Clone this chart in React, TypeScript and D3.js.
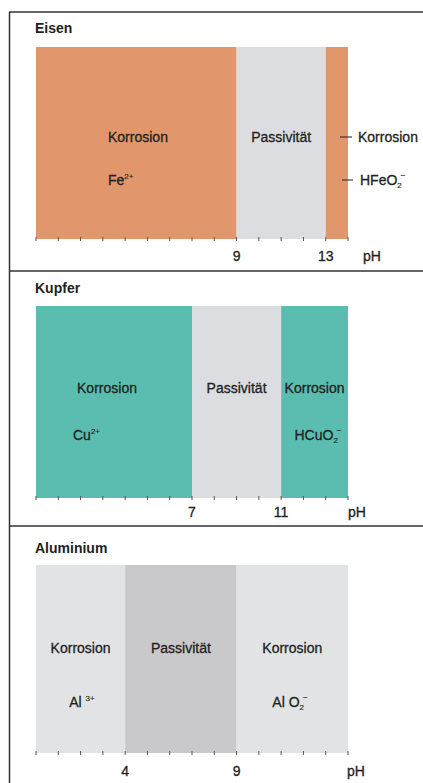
import React from "react";
import * as d3 from "d3";

// pH axis
const phDomain = [0, 14];
const phTicks = d3.range(0, 15);

// zones per metal: [from, to, state]
const eisenZones: [number, number, string][] = [[0, 9, "korr"], [9, 13, "pass"], [13, 14, "korr"]];
const kupferZones: [number, number, string][] = [[0, 7, "korr"], [7, 11, "pass"], [11, 14, "korr"]];
const aluZones: [number, number, string][] = [[0, 4, "korr"], [4, 9, "pass"], [9, 14, "korr"]];

const eisenLabels = [9, 13];
const kupferLabels = [7, 11];
const aluLabels = [4, 9];

const titles = ["Eisen", "Kupfer", "Aluminium"];

const W = 423;
const H = 783;
const FONT = "'Liberation Sans', Arial, sans-serif";
const FS = 14;
const TXT = "#231f20";

const x = d3.scaleLinear().domain(phDomain).range([36, 348]);

const colors: Record<string, Record<string, string>> = {
  Eisen: { korr: "#e2966b", pass: "#dcdde0" },
  Kupfer: { korr: "#5bbdb0", pass: "#dcdde0" },
  Aluminium: { korr: "#e2e3e5", pass: "#c9c9cb" },
};

type PanelProps = {
  title: string;
  zones: [number, number, string][];
  labels: number[];
  top: number;
  titleY: number;
  bottom: number;
  labelY: number;
  pHx: number;
  children?: React.ReactNode;
};

const Panel = ({ title, zones, labels, top, titleY, bottom, labelY, pHx, children }: PanelProps) => {
  const c = colors[title];
  return (
    <g>
      <text x={35} y={titleY} fontFamily={FONT} fontWeight="bold" fontSize={14} fill={TXT}>{title}</text>
      {zones.map((z, i) => (
        <rect key={i} x={x(z[0])} y={top} width={x(z[1]) - x(z[0])} height={bottom - top} fill={c[z[2]]} />
      ))}
      {phTicks.map((t) => (
        <line key={t} x1={x(t)} x2={x(t)} y1={bottom - 2} y2={bottom + 2} stroke="#555" strokeWidth={1} />
      ))}
      {labels.map((t) => (
        <T key={t} x={x(t)} y={labelY} anchor="middle">{t}</T>
      ))}
      <T x={pHx} y={labelY}>pH</T>
      {children}
    </g>
  );
};

const T = (p: { x: number; y: number; anchor?: string; children: React.ReactNode }) => (
  <text x={p.x} y={p.y} textAnchor={p.anchor || "start"} fontFamily={FONT} fontSize={FS}
    fill={TXT} stroke={TXT} strokeWidth={0.3}>{p.children}</text>
);

const Sup = ({ s }: { s: string }) => (
  <tspan fontSize={8} dy={-6} strokeWidth={0.15}>{s}</tspan>
);

const SubSup = ({ sub, sup }: { sub: string; sup: string }) => (
  <>
    <tspan fontSize={8} dy={3} strokeWidth={0.15}>{sub}</tspan>
    <tspan fontSize={8} dy={-10} dx={-1} strokeWidth={0.15}>{sup}</tspan>
  </>
);

export default function App() {
  return (
    <div style={{ position: "absolute", left: 0, top: 0 }}>
      <svg width={W} height={H} style={{ display: "block", background: "#fff" }}>
        {/* frame */}
        <line x1={9.5} x2={9.5} y1={12} y2={H} stroke="#333" strokeWidth={1.5} />
        <line x1={9} x2={W} y1={12} y2={12} stroke="#333" strokeWidth={1.5} />
        <line x1={9} x2={W} y1={271} y2={271} stroke="#333" strokeWidth={1.5} />
        <line x1={9} x2={W} y1={526} y2={526} stroke="#333" strokeWidth={1.5} />

        <Panel title={titles[0]} zones={eisenZones} labels={eisenLabels} top={47} titleY={33} bottom={239} labelY={261} pHx={363}>
          <T x={108} y={142}>Korrosion</T>
          <T x={108} y={185}>Fe<Sup s="2+" /></T>
          <T x={(x(9) + x(13)) / 2} y={142} anchor="middle">Passivität</T>
          <line x1={340} x2={352} y1={137} y2={137} stroke={TXT} strokeWidth={1} />
          <T x={358} y={142}>Korrosion</T>
          <line x1={342} x2={353} y1={180} y2={180} stroke={TXT} strokeWidth={1} />
          <T x={360} y={185}>HFeO<SubSup sub="2" sup="−" /></T>
        </Panel>

        <Panel title={titles[1]} zones={kupferZones} labels={kupferLabels} top={306} titleY={293} bottom={498} labelY={517} pHx={348}>
          <T x={107} y={393} anchor="middle">Korrosion</T>
          <T x={73} y={440}>Cu<Sup s="2+" /></T>
          <T x={(x(7) + x(11)) / 2} y={393} anchor="middle">Passivität</T>
          <T x={(x(11) + x(14)) / 2} y={393} anchor="middle">Korrosion</T>
          <T x={318} y={440} anchor="middle">HCuO<SubSup sub="2" sup="−" /></T>
        </Panel>

        <Panel title={titles[2]} zones={aluZones} labels={aluLabels} top={565} titleY={553} bottom={753} labelY={776} pHx={347}>
          <T x={(x(0) + x(4)) / 2} y={653} anchor="middle">Korrosion</T>
          <T x={82} y={707} anchor="middle">Al <Sup s="3+" /></T>
          <T x={(x(4) + x(9)) / 2} y={653} anchor="middle">Passivität</T>
          <T x={(x(9) + x(14)) / 2} y={653} anchor="middle">Korrosion</T>
          <T x={290} y={707} anchor="middle">Al O<SubSup sub="2" sup="−" /></T>
        </Panel>
      </svg>
    </div>
  );
}
